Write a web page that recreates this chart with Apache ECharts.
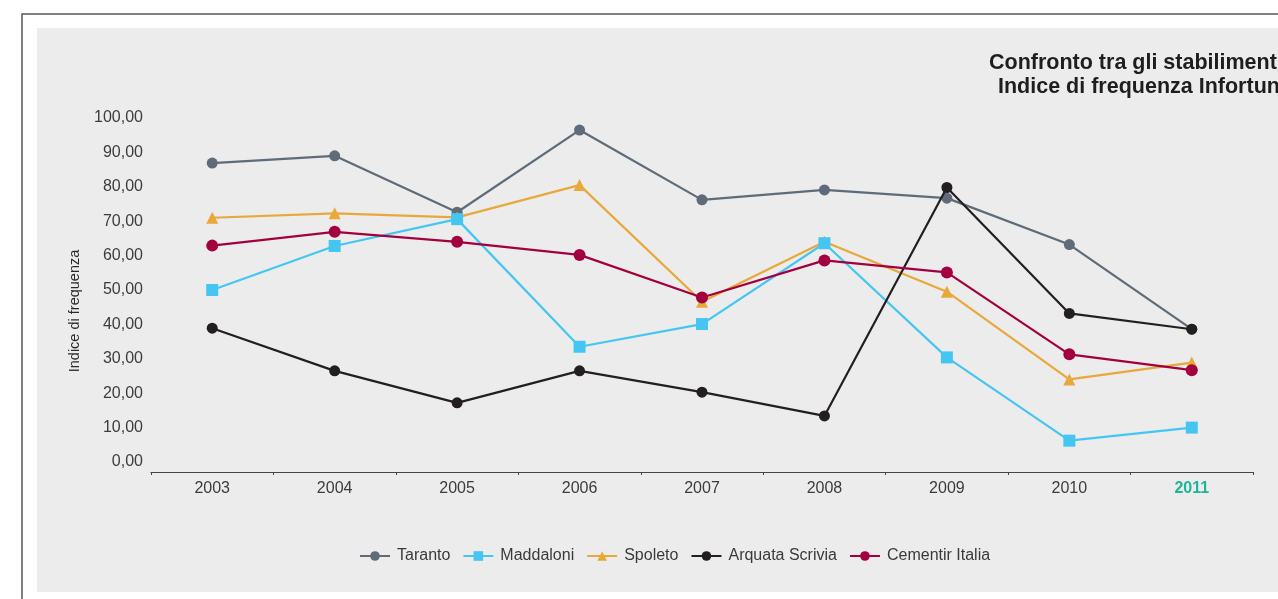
<!DOCTYPE html>
<html>
<head>
<meta charset="utf-8">
<script src="https://cdn.jsdelivr.net/npm/echarts@6/dist/echarts.min.js"></script>
<style>
  html, body { margin: 0; padding: 0; background: #ffffff; }
  #chart { width: 1278px; height: 599px; }
</style>
</head>
<body>
<div id="chart"></div>
<script>
// Indice di frequenza infortuni per stabilimento, 2003-2011
const years = ['2003', '2004', '2005', '2006', '2007', '2008', '2009', '2010', '2011'];
const taranto        = [86.9, 89.0, 72.6, 96.5, 76.2, 79.1, 76.7, 63.2, 38.6];
const maddaloni      = [50.0, 62.8, 70.6, 33.5, 40.1, 63.6, 30.4, 6.2, 10.0];
const spoleto        = [71.0, 72.3, 71.1, 80.5, 46.6, 64.0, 49.5, 24.0, 28.9];
const arquataScrivia = [38.9, 26.5, 17.2, 26.5, 20.3, 13.4, 79.8, 43.2, 38.6];
const cementirItalia = [62.9, 66.9, 64.0, 60.2, 47.8, 58.6, 55.1, 31.3, 26.7];
const highlightYear = '2011';
const titleLines = ['Confronto tra gli stabilimenti', 'Indice di frequenza Infortuni'];
const yAxisTitle = 'Indice di frequenza';

const FONT = '"Liberation Sans", Arial, sans-serif';

const chart = echarts.init(document.getElementById('chart'), null, { renderer: 'canvas' });

function lineSeries(name, data, color, symbol, size, z) {
  return {
    name: name,
    type: 'line',
    data: data,
    symbol: symbol,
    symbolSize: size,
    z: z,
    lineStyle: { color: color, width: 2.2 },
    itemStyle: { color: color },
    emphasis: { disabled: true },
    animation: false
  };
}

chart.setOption({
  backgroundColor: '#ffffff',
  textStyle: { fontFamily: FONT },
  graphic: [
    { type: 'rect', z: -10, silent: true,
      shape: { x: 22, y: 14, width: 1300, height: 620 },
      style: { fill: '#ffffff', stroke: '#555555', lineWidth: 1.5 } },
    { type: 'rect', z: -9, silent: true,
      shape: { x: 37, y: 28, width: 1300, height: 564 },
      style: { fill: '#ebeceb' } },
    { type: 'text', left: 989, top: 52, silent: true,
      style: { text: titleLines[0], font: 'bold 21.5px ' + FONT, fill: '#1e1e1e' } },
    { type: 'text', left: 998, top: 76, silent: true,
      style: { text: titleLines[1], font: 'bold 21.5px ' + FONT, fill: '#1e1e1e' } },
    { type: 'text', x: 75, y: 311, rotation: Math.PI / 2, silent: true,
      style: { text: yAxisTitle, font: '14.5px ' + FONT, fill: '#2a2a2a',
               align: 'center', verticalAlign: 'middle' } }
  ],
  legend: {
    left: 354,
    top: 543,
    itemWidth: 30,
    itemHeight: 12,
    itemGap: 12,
    textStyle: { fontFamily: FONT, fontSize: 16, color: '#3a3a3a', padding: [0, 0, 0, 2] },
    data: ['Taranto', 'Maddaloni', 'Spoleto', 'Arquata Scrivia', 'Cementir Italia']
  },
  grid: { left: 151, right: 25, top: 118, bottom: 137, containLabel: false },
  xAxis: {
    type: 'category',
    data: years,
    offset: 10,
    boundaryGap: true,
    axisLine: { onZero: false, lineStyle: { color: '#444444', width: 1.2 } },
    axisTick: { show: true, length: 3, inside: false, lineStyle: { color: '#444444' } },
    axisLabel: {
      margin: 9,
      fontSize: 16,
      color: '#3c3c3c',
      fontFamily: FONT,
      formatter: function (v) { return v === highlightYear ? '{hl|' + v + '}' : v; },
      rich: { hl: { color: '#1fb597', fontWeight: 'bold', fontSize: 16, fontFamily: FONT } }
    }
  },
  yAxis: {
    type: 'value',
    min: 0,
    max: 100,
    interval: 10,
    axisLine: { show: false },
    axisTick: { show: false },
    splitLine: { show: false },
    axisLabel: {
      margin: 8,
      fontSize: 16,
      color: '#3c3c3c',
      fontFamily: FONT,
      formatter: function (v) { return v.toFixed(2).replace('.', ','); }
    }
  },
  series: [
    lineSeries('Taranto', taranto, '#5f6b78', 'circle', 11, 2),
    lineSeries('Maddaloni', maddaloni, '#45c6f2', 'rect', 12, 4),
    lineSeries('Spoleto', spoleto, '#e8a83a', 'triangle', 12, 3),
    lineSeries('Arquata Scrivia', arquataScrivia, '#231f20', 'circle', 11, 5),
    lineSeries('Cementir Italia', cementirItalia, '#a3003f', 'circle', 12, 6)
  ]
});
</script>
</body>
</html>
